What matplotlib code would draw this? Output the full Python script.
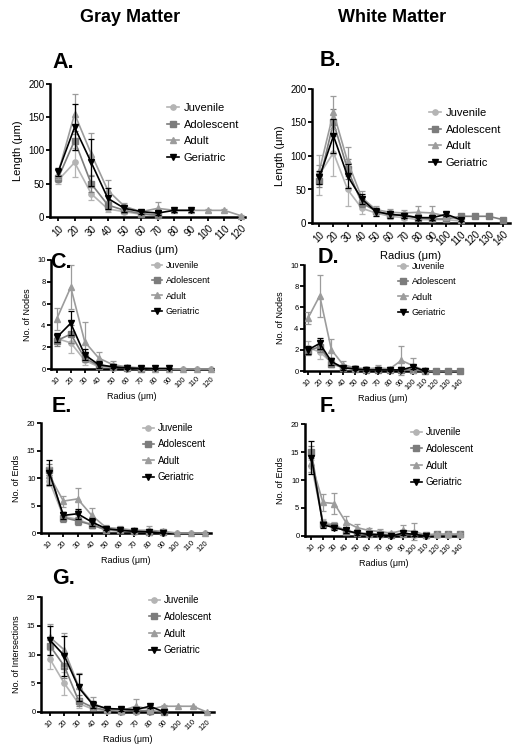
import numpy as np
import matplotlib
matplotlib.use("Agg")
import matplotlib.pyplot as plt
from matplotlib.lines import Line2D

plt.rcParams['font.family'] = ['Liberation Sans', 'DejaVu Sans']

W, H = 521, 753

# radius values
radius_gray = [10, 20, 30, 40, 50, 60, 70, 80, 90, 100, 110, 120]
radius_white = [10, 20, 30, 40, 50, 60, 70, 80, 90, 100, 110, 120, 130, 140]

groups = ['Juvenile', 'Adolescent', 'Adult', 'Geriatric']

# A. gray matter length
a_juv = [55, 82, 35, 12, 8, 4, 2]
a_juv_e = [5, 22, 10, 5, 3, 2, 1]
a_ado = [58, 115, 50, 18, 10, 5, 3]
a_ado_e = [5, 15, 12, 6, 3, 2, 1]
a_adu = [65, 155, 95, 40, 16, 8, 13, 10, 10, 10, 10, 2]
a_adu_e = [8, 30, 32, 16, 5, 3, 10, 2, 2, 2, 2, 1]
a_ger = [67, 135, 82, 28, 13, 8, 6, 10, 10]
a_ger_e = [6, 35, 36, 16, 5, 3, 3, 2, 2]

# B. white matter length
b_juv = [72, 105, 50, 22, 15, 10, 8, 5, 5, 5, 3]
b_juv_e = [30, 35, 25, 8, 5, 4, 3, 3, 3, 3, 2]
b_ado = [62, 150, 80, 30, 18, 12, 12, 8, 6, 6, 10, 10, 10, 5]
b_ado_e = [8, 20, 15, 6, 4, 3, 3, 3, 3, 2, 2, 2, 2, 2]
b_adu = [78, 165, 92, 38, 20, 16, 15, 16, 15, 10, 5]
b_adu_e = [8, 25, 22, 10, 6, 5, 5, 10, 10, 5, 2]
b_ger = [68, 130, 70, 36, 17, 13, 11, 8, 8, 13, 5]
b_ger_e = [10, 25, 18, 8, 6, 5, 4, 3, 3, 3, 2]

# C. gray matter nodes
c_juv = [2.8, 2.4, 0.8, 0.2, 0.1, 0.0, 0.0, 0.0, 0.0, 0.0, 0.0, 0.0]
c_juv_e = [0.5, 0.9, 0.4, 0.2, 0.1, 0, 0, 0, 0, 0, 0, 0]
c_ado = [2.6, 3.2, 1.0, 0.3, 0.2, 0.1, 0.0]
c_ado_e = [0.5, 0.8, 0.4, 0.2, 0.1, 0.1, 0]
c_adu = [4.6, 7.5, 2.5, 1.0, 0.4, 0.2, 0.1, 0.0, 0.0, 0.0, 0.0, 0.0]
c_adu_e = [1.0, 2.0, 1.8, 0.6, 0.3, 0.2, 0.1, 0, 0, 0, 0, 0]
c_ger = [2.9, 4.2, 1.3, 0.4, 0.2, 0.1, 0.05, 0.05, 0.05]
c_ger_e = [0.4, 1.1, 0.5, 0.3, 0.1, 0.1, 0.05, 0.05, 0.05]

# D. white matter nodes
d_juv = [2.2, 1.8, 0.8, 0.4, 0.3, 0.2, 0.2, 0.1, 0.1, 0.1, 0.0, 0.0, 0.0, 0.0]
d_juv_e = [0.6, 0.7, 0.4, 0.2, 0.2, 0.1, 0.1, 0.1, 0.1, 0.1, 0, 0, 0, 0]
d_ado = [1.9, 2.3, 0.7, 0.3, 0.2, 0.1, 0.1, 0.1, 0.1, 0.1, 0.0, 0.0, 0.0, 0.0]
d_ado_e = [0.4, 0.5, 0.3, 0.2, 0.1, 0.1, 0.1, 0.1, 0.1, 0.1, 0, 0, 0, 0]
d_adu = [5.0, 7.1, 2.0, 0.6, 0.3, 0.2, 0.3, 0.2, 1.0, 0.5, 0.05]
d_adu_e = [0.6, 2.0, 1.0, 0.3, 0.2, 0.2, 0.3, 0.2, 1.4, 0.7, 0.05]
d_ger = [2.0, 2.6, 0.9, 0.3, 0.2, 0.1, 0.1, 0.1, 0.1, 0.4, 0.0]
d_ger_e = [0.4, 0.5, 0.3, 0.2, 0.1, 0.1, 0.1, 0.1, 0.1, 0.2, 0]

# E. gray matter ends
e_juv = [9.5, 3.0, 2.5, 1.5, 0.5, 0.3, 0.2, 0.1, 0.0, 0.0, 0.0, 0.0]
e_juv_e = [1.0, 0.8, 0.8, 0.6, 0.3, 0.2, 0.2, 0.1, 0, 0, 0, 0]
e_ado = [11.5, 2.8, 2.2, 1.5, 0.6, 0.5, 0.3, 0.2, 0.1]
e_ado_e = [1.0, 0.8, 0.7, 0.6, 0.3, 0.3, 0.2, 0.1, 0.1]
e_adu = [10.5, 5.8, 6.2, 3.2, 1.0, 0.8, 0.5, 0.5, 0.3, 0.0, 0.0, 0.0]
e_adu_e = [1.5, 1.0, 2.0, 1.3, 0.5, 0.4, 0.4, 0.8, 0.2, 0, 0, 0]
e_ger = [11.0, 3.2, 3.5, 2.0, 0.8, 0.5, 0.3, 0.2, 0.0]
e_ger_e = [2.3, 0.7, 0.9, 0.7, 0.3, 0.2, 0.2, 0.1, 0]

# F. white matter ends
f_juv = [12.5, 2.5, 2.0, 1.0, 0.6, 0.4, 0.3, 0.2, 0.3, 0.2, 0.1, 0.2, 0.2, 0.2]
f_juv_e = [1.0, 0.6, 0.5, 0.4, 0.3, 0.2, 0.2, 0.2, 0.2, 0.2, 0.1, 0.1, 0.1, 0.1]
f_ado = [15.0, 2.2, 1.8, 0.8, 0.5, 0.4, 0.3, 0.2, 0.3, 0.3, 0.2, 0.3, 0.3, 0.3]
f_ado_e = [1.0, 0.5, 0.5, 0.4, 0.3, 0.2, 0.2, 0.2, 0.2, 0.2, 0.1, 0.2, 0.2, 0.2]
f_adu = [13.0, 6.0, 5.8, 2.5, 1.5, 1.0, 0.8, 0.5, 1.0, 0.8, 0.2, 0.3, 0.3, 0.3]
f_adu_e = [1.5, 1.5, 1.8, 1.0, 0.6, 0.5, 0.4, 0.3, 1.0, 1.5, 0.2, 0.2, 0.2, 0.2]
f_ger = [14.0, 2.0, 1.5, 1.0, 0.5, 0.3, 0.2, 0.0, 0.5, 0.3, 0.0]
f_ger_e = [3.0, 0.5, 0.5, 0.4, 0.3, 0.2, 0.2, 0.0, 0.4, 0.3, 0.0]

# G. gray matter intersections
g_juv = [9.2, 5.0, 1.5, 0.5, 0.2, 0.0, 0.0, 0.0, 0.0]
g_juv_e = [1.8, 2.0, 0.8, 0.3, 0.2, 0, 0, 0, 0]
g_ado = [11.5, 8.0, 2.0, 0.8, 0.3, 0.2, 0.3, 0.2, 0.0]
g_ado_e = [1.5, 2.0, 1.0, 0.5, 0.2, 0.2, 0.2, 0.2, 0]
g_adu = [13.0, 10.8, 4.5, 1.5, 0.5, 0.2, 1.0, 0.5, 1.0, 1.0, 1.0, 0.0]
g_adu_e = [2.3, 3.0, 2.2, 1.1, 0.3, 0.2, 1.3, 0.6, 0.3, 0, 0, 0]
g_ger = [12.5, 9.8, 4.3, 1.3, 0.6, 0.5, 0.4, 1.0, 0.0]
g_ger_e = [2.5, 3.5, 2.3, 0.6, 0.2, 0.3, 0.3, 0.3, 0]

colors = ['#b4b4b4', '#7c7c7c', '#9c9c9c', '#000000']
markers = ['o', 's', '^', 'v']


def px_axes(fig, left, top, right, bottom):
    return fig.add_axes([left / W, 1 - bottom / H, (right - left) / W, (bottom - top) / H])


def panel(fig, box, x, data, ylim, yticks, xlim, ylabel, letter, letter_xy,
          leg_xy, fs=7, lfs=7.5, lspace=0.75):
    ax = px_axes(fig, *box)
    handles = []
    for i, (vals, errs) in enumerate(data):
        n = len(vals)
        ax.errorbar(x[:n], vals, yerr=errs, color=colors[i], marker=markers[i],
                    markersize=3.8, linewidth=1.2, elinewidth=0.9, capsize=2.5,
                    capthick=0.9, zorder=2 + i, clip_on=False)
        handles.append(Line2D([], [], color=colors[i], marker=markers[i],
                              markersize=3.8, linewidth=1.2, label=groups[i]))
    ax.set_xlim(*xlim)
    ax.set_ylim(*ylim)
    ax.set_yticks(yticks)
    ax.set_xticks(x)
    ax.set_xticklabels([str(v) for v in x], rotation=45, ha='right',
                       rotation_mode='anchor', fontsize=fs)
    ax.tick_params(axis='y', labelsize=fs, width=1.3, length=3, pad=1)
    ax.tick_params(axis='x', width=1.3, length=3, pad=1.5)
    for s in ['top', 'right']:
        ax.spines[s].set_visible(False)
    for s in ['left', 'bottom']:
        ax.spines[s].set_linewidth(1.8)
    ax.set_ylabel(ylabel, fontsize=fs + 1)
    ax.set_xlabel('Radius (\u03bcm)', fontsize=fs + 1, labelpad=2)
    fig.text(letter_xy[0] / W, 1 - letter_xy[1] / H, letter, fontsize=15.5,
             fontweight='bold', ha='left', va='center')
    ax.legend(handles=handles, loc='upper left',
              bbox_to_anchor=(leg_xy[0] / W, 1 - leg_xy[1] / H),
              bbox_transform=fig.transFigure, frameon=False, fontsize=lfs,
              handlelength=1.1, handletextpad=0.4, labelspacing=lspace,
              borderpad=0, borderaxespad=0)
    return ax


fig = plt.figure(figsize=(W / 100, H / 100), dpi=100)

fig.text(130 / W, 1 - 18 / H, 'Gray Matter', fontsize=13, fontweight='bold',
         ha='center', va='center')
fig.text(392 / W, 1 - 18 / H, 'White Matter', fontsize=13, fontweight='bold',
         ha='center', va='center')

panel(fig, (50, 84, 245, 217), radius_gray,
      [(a_juv, a_juv_e), (a_ado, a_ado_e), (a_adu, a_adu_e), (a_ger, a_ger_e)],
      (0, 200), [0, 50, 100, 150, 200], (5.2, 122.5), 'Length (\u03bcm)',
      'A.', (52, 62), (167, 103), fs=7, lfs=8, lspace=0.6)

panel(fig, (312, 89, 510, 223), radius_white,
      [(b_juv, b_juv_e), (b_ado, b_ado_e), (b_adu, b_adu_e), (b_ger, b_ger_e)],
      (0, 200), [0, 50, 100, 150, 200], (4.8, 145), 'Length (\u03bcm)',
      'B.', (320, 60), (429, 108), fs=7, lfs=8, lspace=0.6)

panel(fig, (51, 260, 213, 369), radius_gray,
      [(c_juv, c_juv_e), (c_ado, c_ado_e), (c_adu, c_adu_e), (c_ger, c_ger_e)],
      (0, 10), [0, 2, 4, 6, 8, 10], (5.9, 121.6), 'No. of Nodes',
      'C.', (50, 262), (152, 261), fs=5.5, lfs=6.5, lspace=0.7)

panel(fig, (304, 265, 462, 371), radius_white,
      [(d_juv, d_juv_e), (d_ado, d_ado_e), (d_adu, d_adu_e), (d_ger, d_ger_e)],
      (0, 10), [0, 2, 4, 6, 8, 10], (6.5, 142), 'No. of Nodes',
      'D.', (318, 258), (398, 262), fs=5.5, lfs=6.5, lspace=0.7)

panel(fig, (41, 423, 211, 533), radius_gray,
      [(e_juv, e_juv_e), (e_ado, e_ado_e), (e_adu, e_adu_e), (e_ger, e_ger_e)],
      (0, 20), [0, 5, 10, 15, 20], (4.2, 124), 'No. of Ends',
      'E.', (52, 406), (143, 423), fs=5.5, lfs=7, lspace=0.65)

panel(fig, (305, 424, 462, 536), radius_white,
      [(f_juv, f_juv_e), (f_ado, f_ado_e), (f_adu, f_adu_e), (f_ger, f_ger_e)],
      (0, 20), [0, 5, 10, 15, 20], (4.3, 142), 'No. of Ends',
      'F.', (320, 406), (411, 427), fs=5.5, lfs=7, lspace=0.7)

panel(fig, (41, 597, 214, 712), radius_gray,
      [(g_juv, g_juv_e), (g_ado, g_ado_e), (g_adu, g_adu_e), (g_ger, g_ger_e)],
      (0, 20), [0, 5, 10, 15, 20], (3.7, 125), 'No. of Intersections',
      'G.', (52, 578), (149, 595), fs=5.5, lfs=7, lspace=0.7)

plt.savefig('out.png', dpi=100)
